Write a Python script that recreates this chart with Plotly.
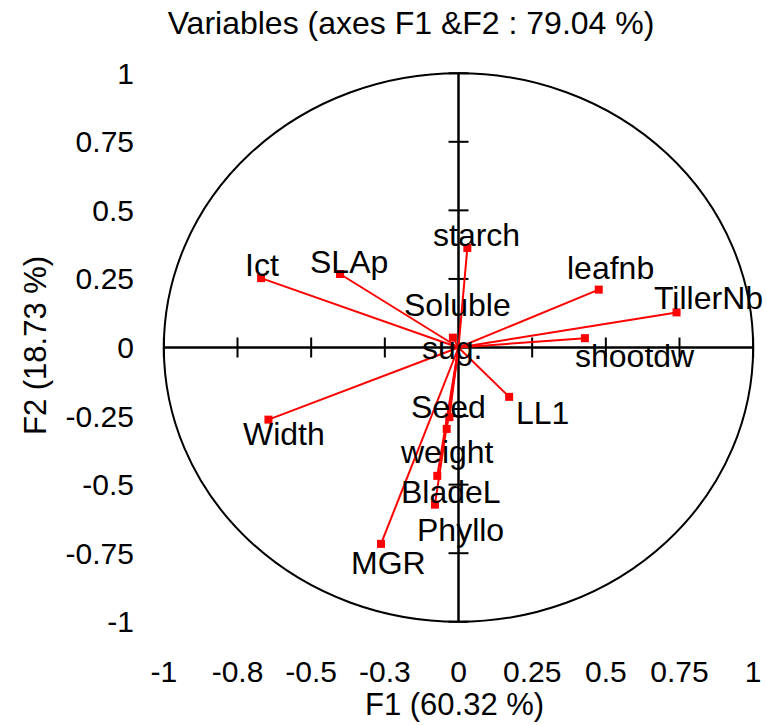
import plotly.graph_objects as go

# ---- data (correlations of variables with F1 / F2) ----
variables = ["starch", "Ict", "SLAp", "leafnb", "TillerNb", "shootdw", "Soluble sug.",
             "LL1", "Width", "Seed", "weight", "BladeL", "Phyllo", "MGR"]
f1 = [0.030, -0.670, -0.402, 0.476, 0.740, 0.429, -0.019,
      0.172, -0.645, -0.031, -0.040, -0.072, -0.080, -0.263]
f2 = [0.363, 0.253, 0.268, 0.211, 0.128, 0.034, 0.036,
      -0.180, -0.263, -0.254, -0.297, -0.468, -0.573, -0.716]

tick_vals = [-1, -0.75, -0.5, -0.25, 0, 0.25, 0.5, 0.75, 1]
x_tick_text = ["-1", "-0.8", "-0.5", "-0.3", "0", "0.25", "0.5", "0.75", "1"]
y_tick_text = ["-1", "-0.75", "-0.5", "-0.25", "0", "0.25", "0.5", "0.75", "1"]

title_text = "Variables (axes F1 &F2 : 79.04 %)"
x_title = "F1 (60.32 %)"
y_title = "F2 (18.73 %)"

# ---- label placement (pixel offsets from point; style only) ----
label_offsets = {
    "starch": [(9, 13)],
    "Ict": [(1, 13)],
    "SLAp": [(9, 12)],
    "leafnb": [(12, 22)],
    "TillerNb": [(32, 14)],
    "shootdw": [(50, -18)],
    "Soluble sug.": [(5, 33), (-1, -10)],
    "LL1": [(33, -16)],
    "Width": [(16, -14)],
    "Seed": [(-1, 10)],
    "weight": [(0, -23)],
    "BladeL": [(14, -16)],
    "Phyllo": [(26, -25)],
    "MGR": [(7, -19)],
}

RED = "#ff0000"
FONT = "Arial, Liberation Sans, sans-serif"

fig = go.Figure()

# vectors from origin
lx, ly = [], []
for a, b in zip(f1, f2):
    lx += [0, a, None]
    ly += [0, b, None]
fig.add_trace(go.Scatter(x=lx, y=ly, mode="lines", line=dict(color=RED, width=2),
                         hoverinfo="skip", showlegend=False))
fig.add_trace(go.Scatter(x=f1, y=f2, mode="markers", text=variables,
                         marker=dict(symbol="square", size=8, color=RED),
                         showlegend=False))

shapes = []
# correlation circle
shapes.append(dict(type="circle", xref="x", yref="y", x0=-1, y0=-1, x1=1, y1=1,
                   line=dict(color="black", width=2), layer="below"))
# cross axes
shapes.append(dict(type="line", xref="x", yref="y", x0=-1, y0=0, x1=1, y1=0,
                   line=dict(color="black", width=2.5), layer="below"))
shapes.append(dict(type="line", xref="x", yref="y", x0=0, y0=-1, x1=0, y1=1,
                   line=dict(color="black", width=2.5), layer="below"))
# tick marks on the cross axes
tx = 10 / 294.7
ty = 10 / 274.3
for v in tick_vals:
    if v == 0:
        continue
    shapes.append(dict(type="line", xref="x", yref="y", x0=v, x1=v, y0=-ty, y1=ty,
                       line=dict(color="black", width=2), layer="below"))
    shapes.append(dict(type="line", xref="x", yref="y", x0=-tx, x1=tx, y0=v, y1=v,
                       line=dict(color="black", width=2), layer="below"))

annotations = []
for name, a, b in zip(variables, f1, f2):
    parts = name.split(" ")
    offs = label_offsets[name]
    for part, (dx, dy) in zip(parts, offs):
        annotations.append(dict(x=a, y=b, xref="x", yref="y", text=part, showarrow=False,
                                xshift=dx, yshift=dy, xanchor="center", yanchor="middle",
                                font=dict(family=FONT, size=32, color="black")))

annotations.append(dict(x=0.4926, y=-0.131, xref="paper", yref="paper", text=x_title,
                        showarrow=False, xanchor="center", yanchor="middle",
                        font=dict(family=FONT, size=31, color="black")))
annotations.append(dict(x=-0.1977, y=0.5044, xref="paper", yref="paper", text=y_title,
                        showarrow=False, xanchor="center", yanchor="middle", textangle=-90,
                        font=dict(family=FONT, size=31, color="black")))

fig.update_layout(
    width=767, height=725,
    margin=dict(l=155, r=5, t=65, b=95),
    paper_bgcolor="white", plot_bgcolor="white",
    title=dict(text=title_text, x=411 / 767, xanchor="center", y=1 - 23 / 725,
               yanchor="middle", font=dict(family=FONT, size=32, color="black")),
    shapes=shapes, annotations=annotations,
    xaxis=dict(range=[-1.03, 1.03], tickvals=tick_vals, ticktext=x_tick_text,
               showgrid=False, zeroline=False, showline=False, ticks="",
               ticklabelstandoff=21, tickfont=dict(family=FONT, size=30, color="black")),
    yaxis=dict(range=[-1.03, 1.03], tickvals=tick_vals, ticktext=y_tick_text,
               showgrid=False, zeroline=False, showline=False, ticks="",
               ticklabelstandoff=20, tickfont=dict(family=FONT, size=30, color="black")),
    showlegend=False,
)

fig.write_html("out.html")
